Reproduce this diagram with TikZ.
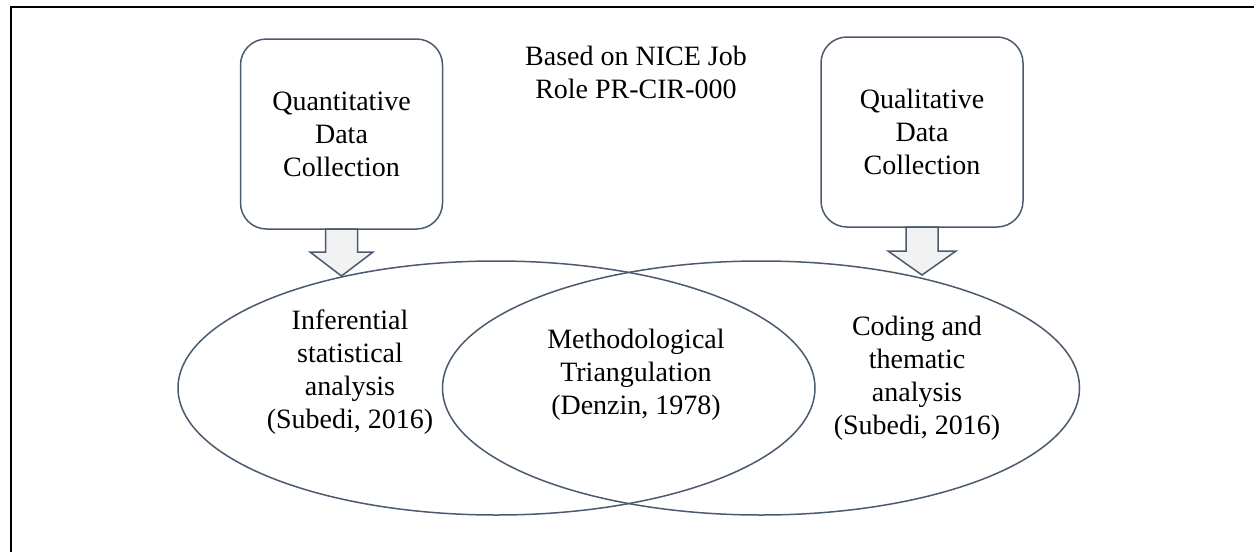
\documentclass[tikz,border=0pt]{standalone}
\usepackage{fontspec}
\setmainfont{Liberation Serif}
\usetikzlibrary{calc,shapes.geometric}
\definecolor{edgecol}{HTML}{4B5A6E}
\definecolor{arrfill}{HTML}{F2F2F2}
\tikzset{
  txt/.style={align=center,font=\fontsize{14pt}{16.5pt}\selectfont,inner sep=0pt},
  databox/.style={txt,draw=edgecol,line width=0.75pt,rounded corners=13pt,
    minimum width=101pt,minimum height=95pt,outer sep=0pt},
  setshape/.style={draw=edgecol,line width=0.75pt,ellipse,minimum width=318.5pt,
    minimum height=127pt,inner sep=0pt,outer sep=0pt},
  blockarrow/.style={draw=edgecol,fill=arrfill,line width=0.75pt,line join=miter},
  frameline/.style={draw=black}
}
\begin{document}
\begin{tikzpicture}[x=0.5pt,y=-0.5pt]
\useasboundingbox (0,0) rectangle (1254,552);
% frame
\coordinate (ftl) at (11,7);
\coordinate (fa) at (157,7);
\coordinate (fb) at (1112,7);
\coordinate (ftr) at (1254,7);
\coordinate (fbl) at (11,552);
\draw[frameline,line width=1.2pt] (ftl) -- (fa);
\draw[frameline,line width=0.6pt] (fa) -- (fb);
\draw[frameline,line width=1.2pt] (fb) -- (ftr);
\draw[frameline,line width=1.1pt] ($(ftl)+(0,-1)$) -- (fbl);

% boxes
\node[databox] (quant) at (341.5,134) {Quantitative\\Data\\Collection};
\node[databox] (qual) at (922,132) {Qualitative\\Data\\Collection};

% title
\node[txt] (title) at (636,72) {Based on NICE Job\\Role PR-CIR-000};

% block arrows
\draw[blockarrow] ($(quant.south)+(-16,0)$) -- ($(quant.south)+(-16,23)$)
  -- ($(quant.south)+(-31.5,23)$) -- ($(quant.south)+(0,47)$)
  -- ($(quant.south)+(31.5,23)$) -- ($(quant.south)+(16,23)$)
  -- ($(quant.south)+(16,0)$) -- cycle;
\draw[blockarrow] ($(qual.south)+(-16,0)$) -- ($(qual.south)+(-16,24)$)
  -- ($(qual.south)+(-34,24)$) -- ($(qual.south)+(0,48)$)
  -- ($(qual.south)+(34,24)$) -- ($(qual.south)+(16,24)$)
  -- ($(qual.south)+(16,0)$) -- cycle;

% ellipses
\node[setshape] (left) at (496.5,388) {};
\node[setshape] (right) at (761,388) {};

% ellipse texts
\node[txt] (ltext) at (350,372) {Inferential\\statistical\\analysis\\(Subedi, 2016)};
\node[txt] (mtext) at (636,375) {Methodological\\Triangulation\\(Denzin, 1978)};
\node[txt] (rtext) at (917,378) {Coding and\\thematic\\analysis\\(Subedi, 2016)};
\end{tikzpicture}
\end{document}
